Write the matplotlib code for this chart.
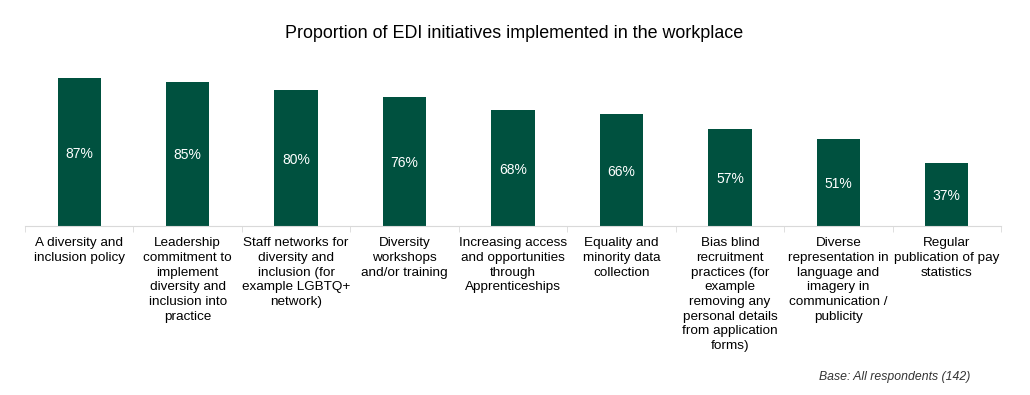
import numpy as np
from matplotlib import pyplot as plt

plt.rcParams['font.family'] = ['Liberation Sans', 'DejaVu Sans']

categories = [
    "A diversity and\ninclusion policy",
    "Leadership\ncommitment to\nimplement\ndiversity and\ninclusion into\npractice",
    "Staff networks for\ndiversity and\ninclusion (for\nexample LGBTQ+\nnetwork)",
    "Diversity\nworkshops\nand/or training",
    "Increasing access\nand opportunities\nthrough\nApprenticeships",
    "Equality and\nminority data\ncollection",
    "Bias blind\nrecruitment\npractices (for\nexample\nremoving any\npersonal details\nfrom application\nforms)",
    "Diverse\nrepresentation in\nlanguage and\nimagery in\ncommunication /\npublicity",
    "Regular\npublication of pay\nstatistics",
]
values = [87, 85, 80, 76, 68, 66, 57, 51, 37]

bar_color = '#00513f'

fig = plt.figure(figsize=(10.3, 3.95), dpi=100)
ax = fig.add_axes([25 / 1030, 1 - 226 / 395, 976 / 1030, 170 / 395])

x = np.arange(len(values))
bars = ax.bar(x, values, width=0.4, color=bar_color)

for b, v in zip(bars, values):
    ax.text(b.get_x() + b.get_width() / 2, v / 2 - 1, f"{v}%", ha='center', va='center',
            color='white', fontsize=10)

ax.set_xlim(-0.5, len(values) - 0.5)
ax.set_ylim(0, 100)
ax.set_yticks([])
for s in ['top', 'right', 'left']:
    ax.spines[s].set_visible(False)
ax.spines['bottom'].set_color('#d9d9d9')

ax.set_xticks(x)
ax.set_xticklabels(categories, fontsize=9.7, linespacing=1.3, va='top')
ax.tick_params(axis='x', length=0, pad=8)
ax.set_xticks(np.arange(len(values) + 1) - 0.5, minor=True)
ax.tick_params(axis='x', which='minor', length=4, color='#d9d9d9')

fig.text(514 / 1030, 1 - 33 / 395, "Proportion of EDI initiatives implemented in the workplace",
         ha='center', va='center', fontsize=12.9)
fig.text(970 / 1030, 1 - 377 / 395, "Base: All respondents (142)", ha='right', va='center',
         fontsize=8.8, style='italic', color='#333333')

fig.savefig('out.png', dpi=100)
